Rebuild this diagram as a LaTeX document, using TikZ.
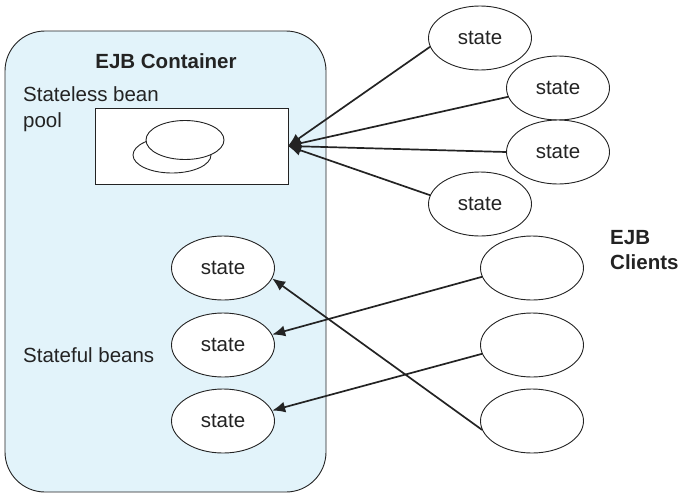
\documentclass[tikz,border=0pt]{standalone}
\usepackage{fontspec}
\setmainfont{Liberation Sans}
\usetikzlibrary{shapes.geometric,arrows.meta}
\definecolor{contfill}{RGB}{226,243,250}
\definecolor{edge}{RGB}{35,35,35}
\begin{document}
\begin{tikzpicture}[x=1pt,y=-1pt,
  every node/.style={font=\fontsize{20.5}{24}\selectfont,text=edge},
  bean/.style={ellipse,draw=edge,line width=0.9pt,fill=white,minimum width=103pt,minimum height=64pt,inner sep=0pt},
  conn/.style={draw=edge,line width=1.7pt,-{Latex[length=13pt,width=11pt]}},
  lbl/.style={anchor=base west,inner sep=0pt}]
\useasboundingbox (0,0) rectangle (682,493);
% container
\node[draw=edge,line width=0.9pt,fill=contfill,rounded corners=40pt,minimum width=321pt,minimum height=461pt,inner sep=0pt] (cont) at (165.5,261.5) {};
\node[font=\fontsize{20.5}{24}\selectfont\bfseries] (title) at (166,61) {EJB Container};
\node[lbl] (sl1) at (23,101) {Stateless bean};
\node[lbl] (sl2) at (23,127) {pool};
\node[lbl] (sf) at (23,362) {Stateful beans};
% pool
\node[draw=edge,line width=0.9pt,fill=white,minimum width=193pt,minimum height=76pt,inner sep=0pt] (pool) at (191.5,146) {};
\node[ellipse,draw=edge,line width=0.9pt,fill=white,minimum width=78pt,minimum height=36pt,inner sep=0pt] (pb) at (172,155) {};
\node[ellipse,draw=edge,line width=0.9pt,fill=white,minimum width=78pt,minimum height=39pt,inner sep=0pt] (pf) at (185,140) {};
\coordinate (tip) at (288,146);
% stateless clients
\node[bean] (c1) at (480,38) {state};
\node[bean] (c2) at (558,88) {state};
\node[bean] (c3) at (558,152) {state};
\node[bean] (c4) at (480,204) {state};
% stateful beans
\node[bean] (b1) at (223,268) {state};
\node[bean] (b2) at (223,345) {state};
\node[bean] (b3) at (223,421) {state};
% stateful clients
\node[bean] (k1) at (532,268) {};
\node[bean] (k2) at (532,345) {};
\node[bean] (k3) at (532,421) {};
\node[lbl,font=\fontsize{20.5}{24}\selectfont\bfseries] (ec1) at (610,244) {EJB};
\node[lbl,font=\fontsize{20.5}{24}\selectfont\bfseries] (ec2) at (610,269) {Clients};
% connectors
\draw[conn] (c1.190) -- (tip);
\draw[conn] (c2.190) -- (tip);
\draw[conn] (c3.west) -- (tip);
\draw[conn] (c4.170) -- (tip);
\draw[conn] (k1.190) -- (b2.12);
\draw[conn] (k2.190) -- (b3.12);
\draw[conn] (k3.190) -- (b1.-12);
\end{tikzpicture}
\end{document}
